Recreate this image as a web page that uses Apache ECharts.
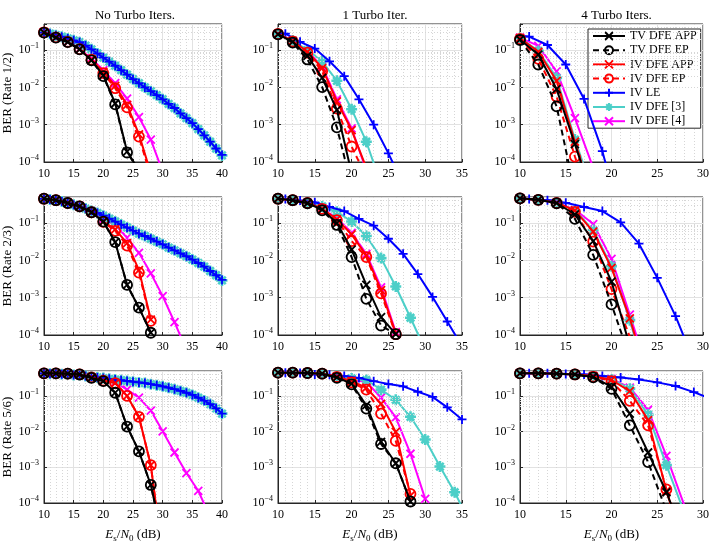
<!DOCTYPE html>
<html>
<head>
<meta charset="utf-8">
<script src="https://cdn.jsdelivr.net/npm/echarts@6/dist/echarts.min.js"></script>
<style>
  html, body { margin: 0; padding: 0; background: #fff; }
  #chart { width: 715px; height: 544px; }
</style>
</head>
<body>
<div id="chart"></div>
<script>
// SNR grids (dB)
const snrStep1 = [10, 11, 12, 13, 14, 15, 16, 17, 18, 19, 20, 21, 22, 23, 24, 25, 26, 27, 28, 29, 30, 31, 32, 33, 34, 35, 36, 37, 38, 39, 40];
const snrStep2 = [10, 12, 14, 16, 18, 20, 22, 24, 26, 28, 30, 32, 34, 36, 38, 40];
const snrOdd = [9, 11, 13, 15, 17, 19, 21, 23, 25, 27, 29, 31, 33, 35, 37, 39];

const colTitles = ['No Turbo Iters.', '1 Turbo Iter.', '4 Turbo Iters.'];
const rowNames = ['BER (Rate 1/2)', 'BER (Rate 2/3)', 'BER (Rate 5/6)'];
const colMaxSnr = [40, 35, 30];
const seriesNames = ['TV DFE APP', 'TV DFE EP', 'IV DFE APP', 'IV DFE EP', 'IV LE', 'IV DFE [3]', 'IV DFE [4]'];

// ---- rate 1/2, no turbo
const r12t0_tvApp = [0.295, 0.215, 0.164, 0.104, 0.053, 0.021, 0.0037, 1.9e-4, 6e-5];
const r12t0_tvEp  = [0.295, 0.215, 0.164, 0.104, 0.053, 0.020, 0.0035, 1.8e-4, 6e-5];
const r12t0_ivApp = [0.3, 0.22, 0.166, 0.106, 0.056, 0.026, 0.011, 0.0034, 5.5e-4, 5e-5];
const r12t0_ivEp  = [0.3, 0.22, 0.166, 0.106, 0.055, 0.024, 0.0095, 0.0029, 4.8e-4, 4e-5];
const r12t0_ivLe  = [0.295, 0.275, 0.251, 0.229, 0.204, 0.182, 0.162, 0.132, 0.105, 0.081, 0.063, 0.049, 0.038, 0.029, 0.022, 0.0166, 0.0129, 0.010, 0.0079, 0.0062, 0.0048, 0.0036, 0.0028, 0.0020, 0.0015, 0.0011, 7.6e-4, 5.2e-4, 3.5e-4, 2.3e-4, 1.55e-4];
const r12t0_dfe3  = [0.295, 0.275, 0.251, 0.229, 0.204, 0.182, 0.162, 0.132, 0.105, 0.081, 0.063, 0.049, 0.038, 0.029, 0.022, 0.0166, 0.0129, 0.010, 0.0079, 0.0062, 0.0048, 0.0036, 0.0028, 0.0020, 0.0015, 0.0011, 7.6e-4, 5.2e-4, 3.5e-4, 2.3e-4, 1.5e-4];
const r12t0_dfe4  = [0.3, 0.22, 0.167, 0.108, 0.06, 0.029, 0.013, 0.005, 0.0016, 4e-4, 5.5e-5];
// ---- rate 1/2, 1 turbo
const r12t1_tvApp = [0.265, 0.165, 0.07, 0.018, 0.0025, 5e-5];
const r12t1_tvEp  = [0.265, 0.158, 0.056, 0.0102, 8.5e-4, 2.3e-5];
const r12t1_ivApp = [0.27, 0.175, 0.09, 0.033, 0.0042, 7.2e-4, 7e-5];
const r12t1_ivEp  = [0.27, 0.17, 0.085, 0.027, 0.0027, 2.6e-4, 4e-5];
const r12t1_ivLe  = [0.3, 0.275, 0.166, 0.11, 0.05, 0.02, 0.0048, 0.001, 1.7e-4, 2.5e-5];
const r12t1_dfe3  = [0.27, 0.18, 0.1, 0.05, 0.015, 0.0026, 3.5e-4, 2.5e-5];
const r12t1_dfe4  = [0.27, 0.175, 0.095, 0.036, 0.0048, 8e-4, 6e-5];
// ---- rate 1/2, 4 turbo
const r12t4_tvApp = [0.19, 0.076, 0.009, 3e-4, 1e-5];
const r12t4_tvEp  = [0.186, 0.041, 0.0031, 1.5e-5];
const r12t4_ivApp = [0.21, 0.09, 0.015, 3.5e-4, 1e-5];
const r12t4_ivEp  = [0.2, 0.058, 0.0057, 1.4e-4, 5e-6];
const r12t4_ivLe  = [0.25, 0.23, 0.137, 0.041, 0.0049, 1.95e-4, 3e-6];
const r12t4_dfe3  = [0.21, 0.095, 0.018, 4e-4, 1.5e-5];
const r12t4_dfe4  = [0.215, 0.13, 0.027, 0.0015, 7e-5];
// ---- rate 2/3, no turbo
const r23t0_tvApp = [0.45, 0.41, 0.345, 0.28, 0.195, 0.109, 0.031, 0.0022, 5.4e-4, 1.15e-4];
const r23t0_tvEp  = [0.45, 0.41, 0.345, 0.28, 0.195, 0.109, 0.031, 0.0022, 5.4e-4, 1.15e-4];
const r23t0_ivApp = [0.45, 0.41, 0.345, 0.28, 0.195, 0.11, 0.068, 0.029, 0.0055, 2.6e-4];
const r23t0_ivEp  = [0.45, 0.41, 0.345, 0.28, 0.195, 0.108, 0.062, 0.025, 0.0047, 2.4e-4];
const r23t0_ivLe  = [0.447, 0.427, 0.407, 0.38, 0.347, 0.309, 0.275, 0.245, 0.214, 0.186, 0.158, 0.132, 0.11, 0.091, 0.076, 0.063, 0.052, 0.045, 0.038, 0.032, 0.027, 0.022, 0.0186, 0.0155, 0.0129, 0.0105, 0.0085, 0.0068, 0.0052, 0.004, 0.003];
const r23t0_dfe3  = [0.447, 0.427, 0.407, 0.38, 0.347, 0.309, 0.275, 0.245, 0.214, 0.186, 0.158, 0.132, 0.11, 0.091, 0.076, 0.063, 0.052, 0.045, 0.038, 0.032, 0.027, 0.022, 0.0186, 0.0155, 0.0129, 0.0105, 0.0085, 0.0068, 0.0052, 0.004, 0.0029];
const r23t0_dfe4  = [0.45, 0.41, 0.35, 0.29, 0.21, 0.13, 0.09, 0.041, 0.016, 0.0045, 0.0011, 2.2e-4, 4e-5];
// ---- rate 2/3, 1 turbo
const r23t1_tvApp = [0.45, 0.41, 0.34, 0.23, 0.1, 0.0195, 0.0022, 3e-4, 1.05e-4];
const r23t1_tvEp  = [0.45, 0.41, 0.34, 0.22, 0.089, 0.0123, 9.3e-4, 1.8e-4, 1.05e-4];
const r23t1_ivApp = [0.45, 0.41, 0.345, 0.245, 0.125, 0.05, 0.0134, 0.0016, 1.1e-4];
const r23t1_ivEp  = [0.45, 0.41, 0.345, 0.24, 0.12, 0.033, 0.0123, 0.0013, 1.05e-4];
const r23t1_ivLe  = [0.46, 0.44, 0.4, 0.36, 0.27, 0.21, 0.13, 0.085, 0.038, 0.015, 0.0043, 0.00105, 2.3e-4, 5e-5];
const r23t1_dfe3  = [0.45, 0.41, 0.35, 0.28, 0.2, 0.11, 0.045, 0.0115, 0.002, 2.9e-4, 4e-5];
const r23t1_dfe4  = [0.45, 0.41, 0.35, 0.25, 0.135, 0.055, 0.015, 0.0019, 1.2e-4];
// ---- rate 2/3, 4 turbo
const r23t4_tvApp = [0.46, 0.42, 0.345, 0.17, 0.033, 0.0027, 5e-5];
const r23t4_tvEp  = [0.46, 0.42, 0.34, 0.13, 0.014, 6.6e-4, 2.5e-5];
const r23t4_ivApp = [0.46, 0.42, 0.35, 0.22, 0.059, 0.0063, 2.8e-4, 6e-6];
const r23t4_ivEp  = [0.46, 0.42, 0.345, 0.2, 0.032, 0.0017, 9e-5];
const r23t4_ivLe  = [0.46, 0.44, 0.41, 0.35, 0.27, 0.21, 0.104, 0.028, 0.0034, 3.2e-4, 2e-5];
const r23t4_dfe3  = [0.46, 0.42, 0.35, 0.22, 0.065, 0.007, 2.5e-4, 5e-6];
const r23t4_dfe4  = [0.46, 0.42, 0.35, 0.23, 0.094, 0.011, 3.5e-4, 1e-5];
// ---- rate 5/6, no turbo
const r56t0_tvApp = [0.43, 0.43, 0.42, 0.4, 0.32, 0.26, 0.123, 0.0139, 0.0028, 3.2e-4, 1e-5];
const r56t0_tvEp  = [0.43, 0.43, 0.42, 0.4, 0.32, 0.26, 0.123, 0.0139, 0.0028, 3.2e-4, 1e-5];
const r56t0_ivApp = [0.43, 0.43, 0.42, 0.4, 0.33, 0.27, 0.23, 0.1, 0.026, 0.00115, 3e-6];
const r56t0_ivEp  = [0.43, 0.43, 0.42, 0.4, 0.33, 0.27, 0.23, 0.1, 0.026, 0.00115, 3e-6];
const r56t0_ivLe  = [0.427, 0.422, 0.417, 0.407, 0.398, 0.389, 0.38, 0.363, 0.347, 0.331, 0.316, 0.302, 0.288, 0.275, 0.263, 0.251, 0.24, 0.229, 0.214, 0.2, 0.186, 0.17, 0.155, 0.138, 0.123, 0.107, 0.089, 0.074, 0.059, 0.045, 0.032];
const r56t0_dfe3  = [0.427, 0.422, 0.417, 0.407, 0.398, 0.389, 0.38, 0.363, 0.347, 0.331, 0.316, 0.302, 0.288, 0.275, 0.263, 0.251, 0.24, 0.229, 0.214, 0.2, 0.186, 0.17, 0.155, 0.138, 0.123, 0.107, 0.089, 0.074, 0.059, 0.045, 0.032];
const r56t0_dfe4  = [0.43, 0.43, 0.42, 0.4, 0.33, 0.27, 0.24, 0.15, 0.09, 0.039, 0.0102, 0.0026, 6.9e-4, 2.2e-4, 4e-5];
// ---- rate 5/6, 1 turbo
const r56t1_tvApp = [0.45, 0.45, 0.44, 0.42, 0.33, 0.22, 0.055, 0.0052, 0.0013, 1.1e-4];
const r56t1_tvEp  = [0.45, 0.45, 0.44, 0.42, 0.32, 0.21, 0.044, 0.0045, 0.0013, 1.1e-4];
const r56t1_ivApp = [0.45, 0.45, 0.44, 0.42, 0.35, 0.26, 0.17, 0.06, 0.0098, 1.6e-4];
const r56t1_ivEp  = [0.45, 0.45, 0.44, 0.42, 0.34, 0.24, 0.15, 0.032, 0.0055, 1.8e-4];
const r56t1_ivLe  = [0.45, 0.45, 0.44, 0.4, 0.39, 0.36, 0.32, 0.26, 0.215, 0.186, 0.131, 0.094, 0.048, 0.022];
const r56t1_dfe3  = [0.45, 0.45, 0.44, 0.42, 0.36, 0.31, 0.28, 0.15, 0.078, 0.026, 0.006, 0.00105, 2e-4, 3e-5];
const r56t1_dfe4  = [0.45, 0.45, 0.44, 0.42, 0.35, 0.28, 0.25, 0.09, 0.025, 0.0024, 1.3e-4];
// ---- rate 5/6, 4 turbo
const r56t4_tvApp = [0.43, 0.43, 0.42, 0.4, 0.34, 0.18, 0.032, 0.0026, 2e-4, 1e-5];
const r56t4_tvEp  = [0.43, 0.43, 0.42, 0.4, 0.33, 0.158, 0.015, 0.0014, 6e-5];
const r56t4_ivApp = [0.43, 0.43, 0.42, 0.4, 0.36, 0.28, 0.137, 0.021, 2.2e-4, 5e-6];
const r56t4_ivEp  = [0.43, 0.43, 0.42, 0.4, 0.35, 0.26, 0.073, 0.015, 2.4e-4, 5e-6];
const r56t4_ivLe  = [0.43, 0.43, 0.43, 0.41, 0.4, 0.36, 0.33, 0.29, 0.24, 0.19, 0.128, 0.08];
const r56t4_dfe3  = [0.43, 0.43, 0.42, 0.4, 0.36, 0.29, 0.16, 0.03, 0.00115, 5e-5];
const r56t4_dfe4  = [0.43, 0.43, 0.42, 0.4, 0.36, 0.3, 0.17, 0.041, 0.0021, 8e-5];

// panels, row by row
const panels = [
  [r12t0_tvApp, r12t0_tvEp, r12t0_ivApp, r12t0_ivEp, r12t0_ivLe, r12t0_dfe3, r12t0_dfe4],
  [r12t1_tvApp, r12t1_tvEp, r12t1_ivApp, r12t1_ivEp, r12t1_ivLe, r12t1_dfe3, r12t1_dfe4],
  [r12t4_tvApp, r12t4_tvEp, r12t4_ivApp, r12t4_ivEp, r12t4_ivLe, r12t4_dfe3, r12t4_dfe4],
  [r23t0_tvApp, r23t0_tvEp, r23t0_ivApp, r23t0_ivEp, r23t0_ivLe, r23t0_dfe3, r23t0_dfe4],
  [r23t1_tvApp, r23t1_tvEp, r23t1_ivApp, r23t1_ivEp, r23t1_ivLe, r23t1_dfe3, r23t1_dfe4],
  [r23t4_tvApp, r23t4_tvEp, r23t4_ivApp, r23t4_ivEp, r23t4_ivLe, r23t4_dfe3, r23t4_dfe4],
  [r56t0_tvApp, r56t0_tvEp, r56t0_ivApp, r56t0_ivEp, r56t0_ivLe, r56t0_dfe3, r56t0_dfe4],
  [r56t1_tvApp, r56t1_tvEp, r56t1_ivApp, r56t1_ivEp, r56t1_ivLe, r56t1_dfe3, r56t1_dfe4],
  [r56t4_tvApp, r56t4_tvEp, r56t4_ivApp, r56t4_ivEp, r56t4_ivLe, r56t4_dfe3, r56t4_dfe4]
];

// minor log grid values
const minorGrid = [2e-4, 3e-4, 4e-4, 5e-4, 6e-4, 7e-4, 8e-4, 9e-4, 2e-3, 3e-3, 4e-3, 5e-3, 6e-3, 7e-3, 8e-3, 9e-3,
  2e-2, 3e-2, 4e-2, 5e-2, 6e-2, 7e-2, 8e-2, 9e-2, 0.2, 0.3, 0.4];

const FONT = '"Liberation Serif", "Times New Roman", serif';
const INK = '#262626';
const SYM_X = 'path://M0,0L10,10M10,0L0,10';
const SYM_PLUS = 'path://M5,0L5,10M0,5L10,5';
const SYM_STAR = 'path://M5,0L5,10M0,5L10,5M1.6,1.6L8.4,8.4M8.4,1.6L1.6,8.4';

const styles = [
  { color: '#000000', symbol: SYM_X, size: 8, dash: 'solid', bw: 1.8 },
  { color: '#000000', symbol: 'circle', size: 10, dash: [6, 4], bw: 1.8 },
  { color: '#ff0000', symbol: SYM_X, size: 8, dash: 'solid', bw: 1.8 },
  { color: '#ff0000', symbol: 'circle', size: 10, dash: [6, 4], bw: 1.8 },
  { color: '#0000ff', symbol: SYM_PLUS, size: 9, dash: 'solid', bw: 1.8 },
  { color: '#4ccfc8', symbol: SYM_STAR, size: 11, dash: 'solid', bw: 2.6 },
  { color: '#ff00ff', symbol: SYM_X, size: 8, dash: 'solid', bw: 1.8 }
];
const drawOrder = [6, 5, 4, 2, 3, 0, 1];

const colBox = [{ left: 38, width: 184 }, { left: 278, width: 184 }, { left: 520, width: 183 }];
const rowBox = [{ top: 24, height: 138 }, { top: 197, height: 138 }, { top: 371, height: 137 }];

function xGridFor(col, k) {
  if (col === 0 && (k === 4 || k === 5)) return snrStep1;
  if (col > 0 && k === 4) return snrOdd;
  return snrStep2;
}

const grids = [], xAxes = [], yAxes = [], series = [], titles = [];

for (let p = 0; p < 9; p++) {
  const row = Math.floor(p / 3), col = p % 3;
  grids.push({
    left: colBox[col].left, width: colBox[col].width,
    top: rowBox[row].top, height: rowBox[row].height,
    show: true, borderColor: INK, borderWidth: 1, backgroundColor: '#fff'
  });
  xAxes.push({
    type: 'value', gridIndex: p, min: 10, max: colMaxSnr[col], interval: 5,
    axisLine: { show: true, lineStyle: { color: INK, width: 1 } },
    axisTick: { show: true, inside: true, length: 3, lineStyle: { color: INK } },
    axisLabel: { fontFamily: FONT, fontSize: 12, color: '#000', margin: 6 },
    splitLine: { show: true, lineStyle: { color: '#e2e2e2', width: 1 } },
    minorTick: { show: false, splitNumber: 5 },
    minorSplitLine: { show: true, lineStyle: { color: '#d6d6d6', width: 1, type: [1, 2] } },
    name: row === 2 ? '{i|E}{sb|s}{t|/}{i|N}{sb|0}{t| (dB)}' : '',
    nameLocation: 'middle', nameGap: 24,
    nameTextStyle: {
      fontFamily: FONT, fontSize: 13, color: '#000',
      rich: {
        i: { fontFamily: FONT, fontSize: 13, fontStyle: 'italic', color: '#000' },
        t: { fontFamily: FONT, fontSize: 13, color: '#000' },
        sb: { fontFamily: FONT, fontSize: 9, color: '#000', padding: [7, 0, 0, 0] }
      }
    }
  });
  yAxes.push({
    type: 'log', logBase: 10, gridIndex: p, min: 1e-4, max: 0.5,
    axisLine: { show: true, lineStyle: { color: INK, width: 1 } },
    axisTick: { show: true, inside: true, length: 3, lineStyle: { color: INK } },
    axisLabel: {
      margin: 5, color: '#000',
      formatter: function (v) {
        const e = Math.log10(v), r = Math.round(e);
        if (Math.abs(e - r) > 1e-6) return '';
        return '{b|10}{s|\u2212' + (-r) + '}';
      },
      rich: {
        b: { fontFamily: FONT, fontSize: 12, color: '#000' },
        s: { fontFamily: FONT, fontSize: 8, color: '#000', padding: [0, 0, 8, 0] }
      }
    },
    splitLine: { show: true, lineStyle: { color: '#e2e2e2', width: 1 } },
    name: col === 0 ? rowNames[row] : '',
    nameLocation: 'middle', nameGap: 30, nameRotate: 90,
    nameTextStyle: { fontFamily: FONT, fontSize: 13, color: '#000' }
  });
  if (row === 0) {
    titles.push({
      text: colTitles[col],
      left: colBox[col].left + colBox[col].width / 2, top: 4, textAlign: 'center',
      textStyle: { fontFamily: FONT, fontSize: 13, fontWeight: 'normal', color: '#000' }
    });
  }
  drawOrder.forEach(function (k, n) {
    const xs = xGridFor(col, k);
    const ys = panels[p][k];
    const st = styles[k];
    const s = {
      name: seriesNames[k], type: 'line', xAxisIndex: p, yAxisIndex: p,
      data: ys.map(function (y, i) { return [xs[i], y]; }),
      symbol: st.symbol, symbolSize: st.size, showAllSymbol: true, clip: true,
      lineStyle: { color: st.color, width: 2, type: st.dash },
      itemStyle: { color: 'rgba(0,0,0,0)', borderColor: st.color, borderWidth: st.bw },
      emphasis: { disabled: true },
      z: 3 + n
    };
    if (n === 0) {
      s.markLine = {
        silent: true, symbol: ['none', 'none'], animation: false,
        label: { show: false },
        lineStyle: { color: '#d6d6d6', width: 1, type: [1, 2] },
        data: minorGrid.map(function (v) { return { yAxis: v }; })
      };
    }
    series.push(s);
  });
}

const chart = echarts.init(document.getElementById('chart'), null, { renderer: 'canvas' });
chart.setOption({
  animation: false,
  backgroundColor: '#fff',
  title: titles,
  legend: {
    data: seriesNames, orient: 'vertical',
    left: 588, top: 29, padding: [1, 4, 1, 4],
    itemWidth: 32, itemHeight: 10, itemGap: 2.2,
    backgroundColor: '#fff', borderColor: INK, borderWidth: 1, borderRadius: 0,
    textStyle: { fontFamily: FONT, fontSize: 12, color: '#000', lineHeight: 12 },
    selectedMode: false
  },
  grid: grids, xAxis: xAxes, yAxis: yAxes, series: series
});
</script>
</body>
</html>
